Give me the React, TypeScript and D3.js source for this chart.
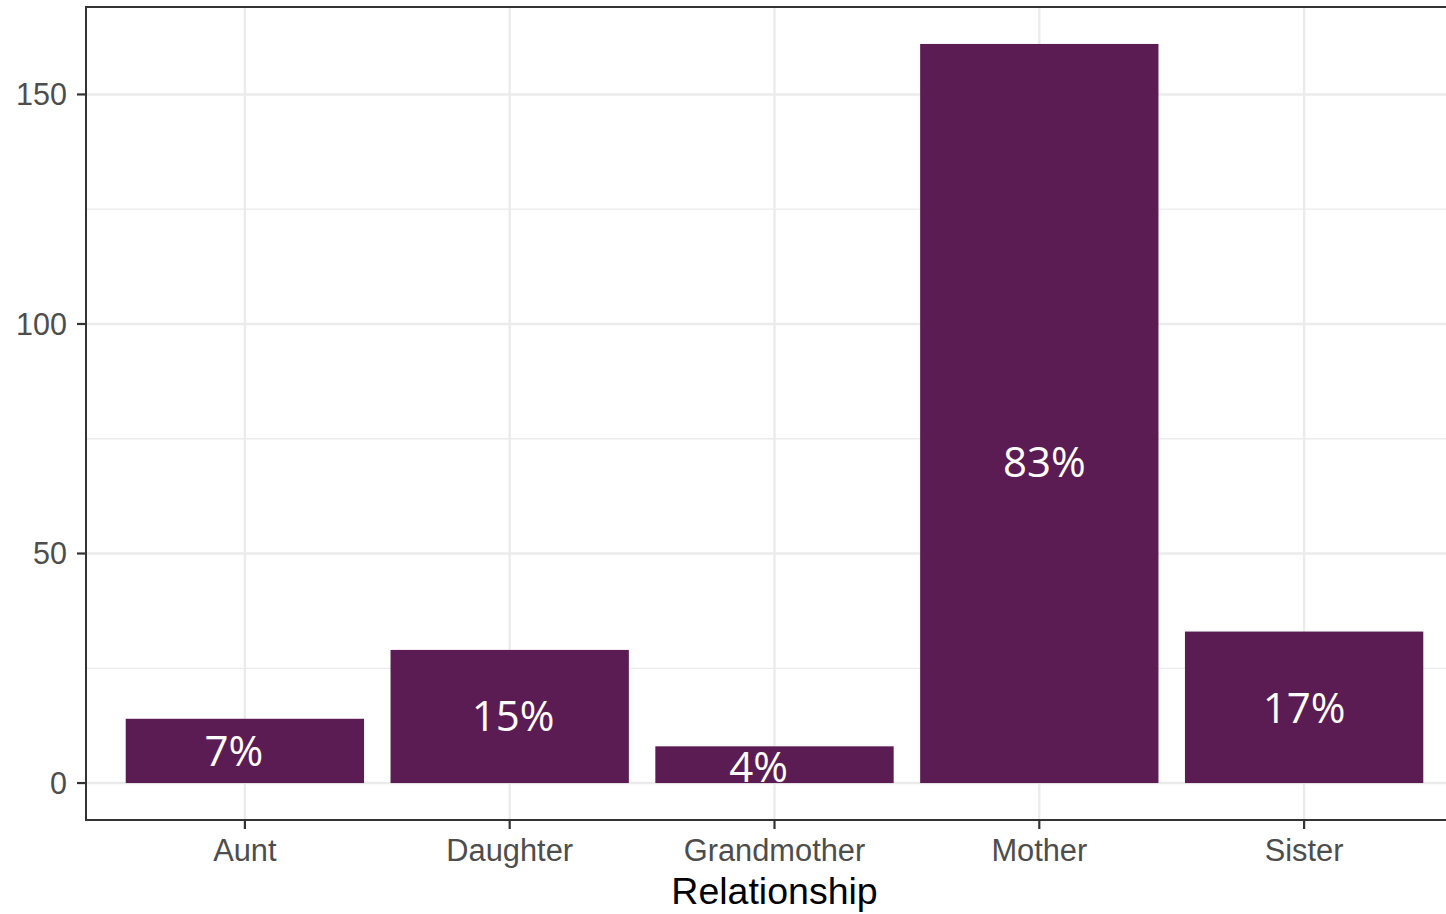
import React from "react";
import * as d3 from "d3";

const categories = ["Aunt", "Daughter", "Grandmother", "Mother", "Sister"];
const counts = [14, 29, 8, 161, 33];
const percentLabels = ["7%", "15%", "4%", "83%", "17%"];
// label centres (data units) and horizontal offset (fraction of a category step)
const labelCenters = [7.0, 14.7, 3.5, 69.9, 16.3];
const labelOffsets = [-0.042, 0.013, -0.06, 0.019, 0];
const yTicks = [0, 50, 100, 150];
const yMinorTicks = [25, 75, 125];
const xTitle = "Relationship";

const W = 1446;
const H = 914;
const panel = { left: 86, top: 7, bottom: 820, right: 1463 };

export default function App() {
  const x = d3
    .scaleBand<string>()
    .domain(categories)
    .range([panel.left, panel.right])
    .paddingInner(0.1)
    .paddingOuter(0.15);
  const step = x.step();
  const maxV = d3.max(counts) as number;
  const pad = maxV * 0.05;
  const y = d3.scaleLinear().domain([-pad, maxV + pad]).range([panel.bottom, panel.top]);
  const center = (c: string) => (x(c) as number) + x.bandwidth() / 2;

  const tickFont = "'Liberation Sans', Arial, sans-serif";
  return (
    <svg
      width={W}
      height={H}
      style={{ position: "absolute", left: 0, top: 0, background: "#fff" }}
    >
      <defs>
        <clipPath id="panelClip">
          <rect x={panel.left} y={panel.top} width={panel.right - panel.left} height={panel.bottom - panel.top} />
        </clipPath>
      </defs>
      <g clipPath="url(#panelClip)">
        <rect x={panel.left} y={panel.top} width={panel.right - panel.left} height={panel.bottom - panel.top} fill="#fff" />
        {yMinorTicks.map((t) => (
          <line key={"mn" + t} x1={panel.left} x2={panel.right} y1={y(t)} y2={y(t)} stroke="#EBEBEB" strokeWidth={1.3} />
        ))}
        {yTicks.map((t) => (
          <line key={"mj" + t} x1={panel.left} x2={panel.right} y1={y(t)} y2={y(t)} stroke="#EBEBEB" strokeWidth={2.4} />
        ))}
        {categories.map((c) => (
          <line key={"vx" + c} x1={center(c)} x2={center(c)} y1={panel.top} y2={panel.bottom} stroke="#EBEBEB" strokeWidth={2.4} />
        ))}
        {categories.map((c, i) => (
          <rect
            key={"bar" + c}
            x={x(c)}
            y={y(counts[i])}
            width={x.bandwidth()}
            height={y(0) - y(counts[i])}
            fill="#5B1C53"
          />
        ))}
      </g>
      {/* panel border */}
      <rect
        x={panel.left}
        y={panel.top}
        width={panel.right - panel.left}
        height={panel.bottom - panel.top}
        fill="none"
        stroke="#333333"
        strokeWidth={2}
      />
      {/* percentage labels */}
      {categories.map((c, i) => (
        <text
          key={"lab" + c}
          x={center(c) + labelOffsets[i] * step}
          y={y(labelCenters[i])}
          dy="0.357em"
          textAnchor="middle"
          fill="#ffffff"
          fontFamily="'Open Sans', sans-serif"
          fontSize={42}
        >
          {percentLabels[i]}
        </text>
      ))}
      {/* y axis */}
      {yTicks.map((t) => (
        <g key={"yt" + t}>
          <line x1={panel.left - 9} x2={panel.left} y1={y(t)} y2={y(t)} stroke="#333333" strokeWidth={2.2} />
          <text
            x={panel.left - 19}
            y={y(t)}
            dy="0.36em"
            textAnchor="end"
            fill="#4D4D4D"
            fontFamily={tickFont}
            fontSize={30.5}
          >
            {t}
          </text>
        </g>
      ))}
      {/* x axis */}
      {categories.map((c) => (
        <g key={"xt" + c}>
          <line x1={center(c)} x2={center(c)} y1={panel.bottom} y2={panel.bottom + 9} stroke="#333333" strokeWidth={2.2} />
          <text
            x={center(c)}
            y={panel.bottom + 41}
            textAnchor="middle"
            fill="#4D4D4D"
            fontFamily={tickFont}
            fontSize={30.8}
          >
            {c}
          </text>
        </g>
      ))}
      <text
        x={(panel.left + panel.right) / 2}
        y={904}
        textAnchor="middle"
        fill="#000000"
        fontFamily={tickFont}
        fontSize={37.5}
      >
        {xTitle}
      </text>
    </svg>
  );
}
